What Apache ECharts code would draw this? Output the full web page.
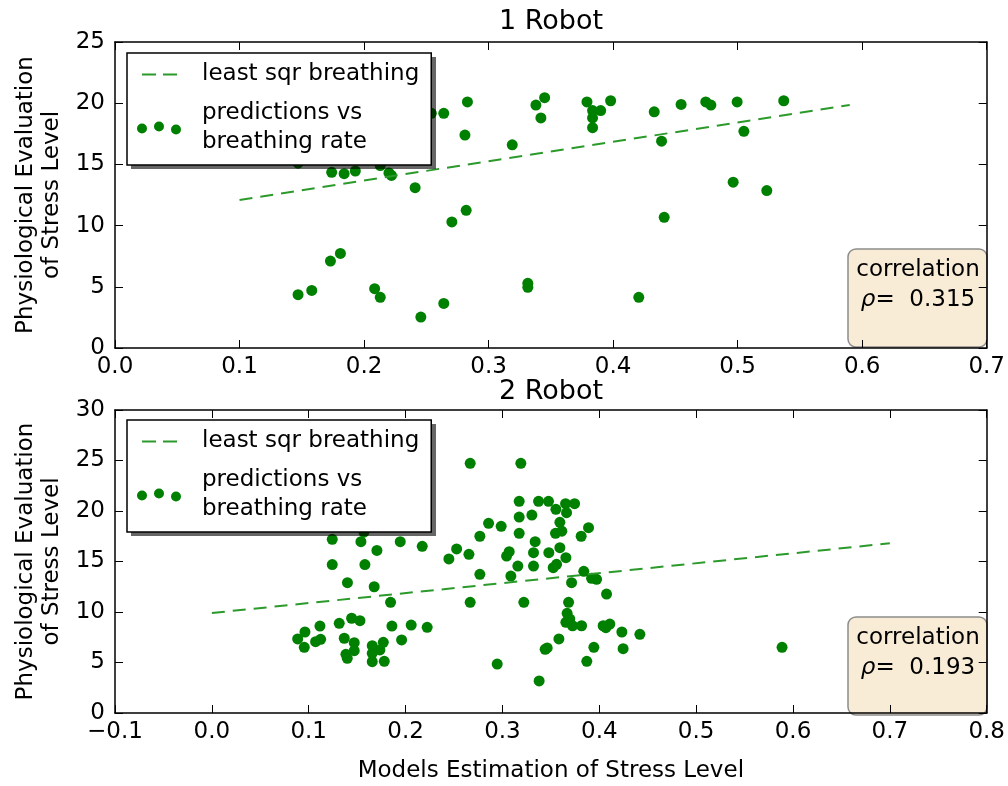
<!DOCTYPE html>
<html>
<head>
<meta charset="utf-8">
<script src="https://cdn.jsdelivr.net/npm/echarts@6/dist/echarts.min.js"></script>
<style>
  html, body { margin: 0; padding: 0; background: #fff; }
  #chart { width: 1008px; height: 786px; }
</style>
</head>
<body>
<div id="chart"></div>
<script>
// robot 1 scatter (model estimation vs physiological evaluation)
var r1X = [0.147, 0.174, 0.184, 0.193, 0.213, 0.220, 0.222, 0.241, 0.254, 0.264, 0.283, 0.281, 0.319, 0.282, 0.2705,
  0.338, 0.345, 0.342, 0.181, 0.173, 0.147, 0.158, 0.2085, 0.213, 0.264, 0.2456, 0.3315, 0.3315, 0.379, 0.3835,
  0.390, 0.3835, 0.3835, 0.398, 0.433, 0.4546, 0.4744, 0.4785, 0.4996, 0.537, 0.4389, 0.505, 0.4964, 0.5234, 0.441, 0.4206];
var r1Y = [15.1, 14.35, 14.24, 14.46, 14.9, 14.3, 14.1, 13.1, 19.17, 19.17, 20.1, 17.4, 16.6, 11.25, 10.3,
  19.85, 20.45, 18.8, 7.73, 7.1, 4.36, 4.7, 4.85, 4.14, 3.64, 2.53, 5.28, 4.96, 20.1, 19.4,
  19.4, 18.8, 18.0, 20.2, 19.3, 19.9, 20.1, 19.85, 20.1, 20.2, 16.9, 17.7, 13.55, 12.86, 10.68, 4.14];
var r1FitX = [0.1, 0.59];
var r1FitY = [12.1, 19.85];
var r1Rho = '0.315';

// robot 2
var r2X = [0.1243, 0.1539, 0.157, 0.1945, 0.2172, 0.1704, 0.2447, 0.2527, 0.1243, 0.158, 0.140, 0.1676, 0.1845,
  0.1315, 0.1443, 0.1529, 0.1116, 0.0961, 0.0886, 0.0954, 0.1071, 0.1123, 0.1367, 0.147, 0.147, 0.1384, 0.1398,
  0.1656, 0.1656, 0.1656, 0.1735, 0.177, 0.178, 0.1859, 0.1959, 0.2058, 0.2223,
  0.2667, 0.319, 0.3173, 0.3373, 0.3476, 0.3552, 0.3652, 0.3745, 0.3662, 0.3173, 0.3304, 0.2857, 0.2987, 0.3593,
  0.2767, 0.3173, 0.3548, 0.3613, 0.3889, 0.3813, 0.3338, 0.2654, 0.3043, 0.307, 0.3321, 0.3479, 0.3593, 0.3655,
  0.2767, 0.3159, 0.3321, 0.3524, 0.3559, 0.3087, 0.384, 0.3714, 0.392, 0.3972, 0.2667, 0.3221, 0.4075, 0.3683,
  0.3668, 0.3696, 0.3655, 0.3724, 0.3817, 0.404, 0.4109, 0.4068, 0.4233, 0.4419, 0.3583, 0.3441, 0.3462, 0.3944,
  0.4246, 0.2946, 0.3871, 0.3379, 0.5887];
var r2Y = [17.2, 16.96, 17.9, 16.96, 16.5, 16.1, 15.25, 16.24, 14.7, 14.7, 12.9, 12.5, 10.96,
  8.88, 9.38, 9.14, 8.61, 8.02, 7.33, 6.5, 7.06, 7.3, 7.4, 6.96, 6.17, 5.81, 5.41,
  6.66, 5.91, 5.08, 6.24, 7.0, 5.12, 8.61, 7.23, 8.71, 8.48,
  24.72, 24.72, 20.96, 20.96, 20.96, 20.17, 20.72, 20.72, 19.83, 19.4, 19.6, 18.78, 18.48, 18.88,
  17.5, 17.79, 17.79, 18.0, 18.35, 17.5, 16.96, 15.71, 15.54, 15.97, 15.87, 15.87, 16.37, 15.38,
  13.73, 14.55, 14.55, 14.39, 14.72, 13.56, 14.03, 12.9, 13.33, 13.24, 10.96, 10.96, 11.78, 10.96,
  9.87, 9.3, 8.98, 8.64, 8.64, 8.64, 8.81, 8.45, 8.02, 7.79, 7.33, 6.3, 6.44, 6.5,
  6.37, 4.85, 5.12, 3.17, 6.5];
var r2FitX = [0.0, 0.7];
var r2FitY = [9.9, 16.8];
var r2Rho = '0.193';

var titles = ['1 Robot', '2 Robot'];
var fitName = 'least sqr breathing';
var dotName = 'predictions vs breathing rate';

var FONT = 'DejaVu Sans';
var chart = echarts.init(document.getElementById('chart'));

function zip(xs, ys) {
  return xs.map(function (x, i) { return [x, ys[i]]; });
}
function fmtX(v) {
  if (Math.abs(v) < 1e-9) v = 0;
  return v.toFixed(1).replace('-', '\u2212');
}

// legend icons: both share the same bbox (-5..55, -5..8) so they are drawn 1:1
var dashIcon = 'path://M-5,-5L-5,-5M55,8L55,8M0,0.5L14,0.5L14,2.5L0,2.5ZM21,0.5L35,0.5L35,2.5L21,2.5Z';
var dotsIcon = 'path://M-5,-5L-5,-5M55,8L55,8' +
  'M-5,2a5,5 0 1,0 10,0a5,5 0 1,0 -10,0Z' +
  'M12,0a5,5 0 1,0 10,0a5,5 0 1,0 -10,0Z' +
  'M29,3a5,5 0 1,0 10,0a5,5 0 1,0 -10,0Z';

function makeLegend(top) {
  return {
    orient: 'vertical', left: 127, top: top, z: 10,
    padding: [7, 12, 8, 10], itemGap: 10,
    itemWidth: 60, itemHeight: 13,
    selectedMode: false,
    backgroundColor: '#fff', borderColor: '#000', borderWidth: 1.5,
    itemStyle: { borderWidth: 0 },
    data: [{ name: fitName, icon: dashIcon }, { name: dotName, icon: dotsIcon }],
    formatter: function (n) { return n === dotName ? 'predictions vs\nbreathing rate' : n; },
    textStyle: { fontFamily: FONT, fontSize: 23, lineHeight: 29, color: '#000' }
  };
}
// drop shadow behind the legend frame
function legendShadow(top) {
  return {
    type: 'rect', z: 9,
    shape: { x: 131, y: top + 4, width: 305, height: 112 },
    style: { fill: 'rgba(0,0,0,0.6)' }
  };
}

function xAxes(gi, min, max) {
  var base = {
    gridIndex: gi, type: 'value', min: min, max: max, interval: 0.1, z: 3,
    splitLine: { show: false },
    axisLine: { onZero: false, lineStyle: { color: '#000', width: 1.5 } },
    axisTick: { inside: true, length: 8, lineStyle: { color: '#000' } }
  };
  return [
    Object.assign({}, base, {
      position: 'bottom',
      axisLabel: { formatter: fmtX, fontFamily: FONT, fontSize: 23, color: '#000', margin: 8 },
      name: gi === 1 ? 'Models Estimation of Stress Level' : '',
      nameLocation: 'middle', nameGap: 47,
      nameTextStyle: { fontFamily: FONT, fontSize: 23, color: '#000' }
    }),
    Object.assign({}, base, { position: 'top', axisLabel: { show: false } })
  ];
}
function yAxes(gi, max) {
  var base = {
    gridIndex: gi, type: 'value', min: 0, max: max, interval: 5, z: 3,
    splitLine: { show: false },
    axisLine: { onZero: false, lineStyle: { color: '#000', width: 1.5 } },
    axisTick: { inside: true, length: 8, lineStyle: { color: '#000' } }
  };
  return [
    Object.assign({}, base, {
      position: 'left',
      axisLabel: { fontFamily: FONT, fontSize: 23, color: '#000', margin: 10 },
      name: 'Physiological Evaluation\nof Stress Level',
      nameLocation: 'middle', nameGap: 39,
      nameTextStyle: { fontFamily: FONT, fontSize: 23, lineHeight: 26, color: '#000' }
    }),
    Object.assign({}, base, { position: 'right', axisLabel: { show: false } })
  ];
}

function corrBox(y, rho) {
  return [
    {
      type: 'rect', z: 1,
      shape: { x: 848, y: y, width: 139, height: 98, r: 8 },
      style: { fill: '#f8ecd6', stroke: '#8c8c8c', lineWidth: 1.5 }
    },
    {
      type: 'text', z: 1, x: 918, y: y + 6,
      style: {
        text: 'correlation\n{i|\u03c1}=  ' + rho,
        align: 'center', verticalAlign: 'top',
        font: '23px "DejaVu Sans"', lineHeight: 30, fill: '#000',
        rich: { i: { fontStyle: 'italic', fontFamily: FONT, fontSize: 23 } }
      }
    }
  ];
}

var scatterStyle = { color: '#008000', opacity: 1 };
var fitStyle = { color: '#2b9a2b', width: 2, type: [13, 8] };

chart.setOption({
  animation: false,
  backgroundColor: '#fff',
  title: [
    { text: titles[0], left: 551, textAlign: 'center', top: 8, padding: 0,
      textStyle: { fontFamily: FONT, fontSize: 27, fontWeight: 'normal', color: '#000' } },
    { text: titles[1], left: 551, textAlign: 'center', top: 378, padding: 0,
      textStyle: { fontFamily: FONT, fontSize: 27, fontWeight: 'normal', color: '#000' } }
  ],
  legend: [makeLegend(53), makeLegend(420)],
  grid: [
    { left: 115, top: 42, width: 872, height: 306 },
    { left: 115, top: 410, width: 872, height: 303 }
  ],
  xAxis: xAxes(0, 0, 0.7).concat(xAxes(1, -0.1, 0.8)),
  yAxis: yAxes(0, 25).concat(yAxes(1, 30)),
  graphic: corrBox(249, r1Rho).concat(corrBox(617, r2Rho), [legendShadow(53), legendShadow(420)]),
  series: [
    { name: dotName, type: 'scatter', xAxisIndex: 0, yAxisIndex: 0, symbolSize: 11,
      itemStyle: scatterStyle, data: zip(r1X, r1Y) },
    { name: fitName, type: 'line', xAxisIndex: 0, yAxisIndex: 0, symbol: 'none',
      itemStyle: { color: fitStyle.color }, lineStyle: fitStyle, data: zip(r1FitX, r1FitY) },
    { name: dotName, type: 'scatter', xAxisIndex: 2, yAxisIndex: 2, symbolSize: 11,
      itemStyle: scatterStyle, data: zip(r2X, r2Y) },
    { name: fitName, type: 'line', xAxisIndex: 2, yAxisIndex: 2, symbol: 'none',
      itemStyle: { color: fitStyle.color }, lineStyle: fitStyle, data: zip(r2FitX, r2FitY) }
  ]
});
</script>
</body>
</html>
